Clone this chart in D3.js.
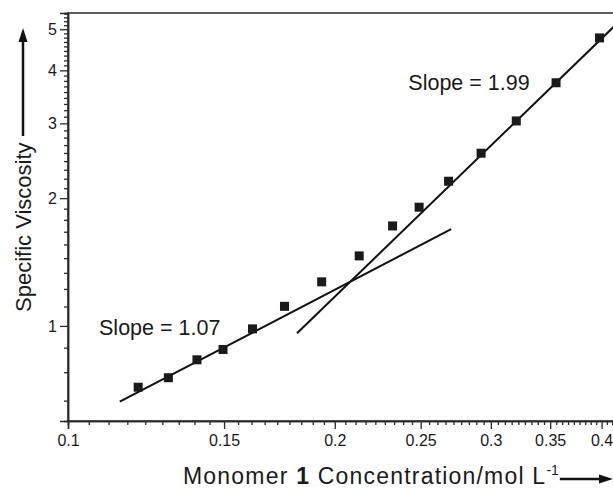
<!DOCTYPE html>
<html>
<head>
<meta charset="utf-8">
<script src="https://cdn.jsdelivr.net/npm/d3@7"></script>
<style>
    body { margin: 0; background: #ffffff; }
    text { font-family: "Liberation Sans", Arial, Helvetica, sans-serif; fill: #1a1a1a; }
</style>
</head>
<body>
<div id="chart"></div>
<script>

// Monomer 1 concentration (mol/L) and specific viscosity
let concentration = [0.1200, 0.1298, 0.1398, 0.1496, 0.1615, 0.1755, 0.1933, 0.2131,
    0.2324, 0.2490, 0.2688, 0.2925, 0.3205, 0.3554, 0.3979];
let viscosity = [0.717, 0.755, 0.832, 0.880, 0.984, 1.112, 1.270, 1.462,
    1.720, 1.904, 2.192, 2.552, 3.04, 3.74, 4.77];

// End points of the two fitted lines
let lowFitX = [0.1144, 0.2706];
let lowFitY = [0.663, 1.690];
let highFitX = [0.1813, 0.4142];
let highFitY = [0.961, 5.10];

// Major ticks and their labels
let xTicks = [0.1, 0.15, 0.2, 0.25, 0.3, 0.35, 0.4];
let xTickLabels = ["0.1", "0.15", "0.2", "0.25", "0.3", "0.35", "0.4"];
let yTicks = [1, 2, 3, 4, 5];
let yTickLabels = ["1", "2", "3", "4", "5"];

let slopeLabels = ["Slope = 1.07", "Slope = 1.99"];

//*************************************************************************************
// SET UP

var width = 613;
var height = 490;

var svg = d3.select("#chart")
    .append("svg")
    .attr("width", width)
    .attr("height", height);

var x = d3.scaleLog()
    .domain([0.1, 0.4142])
    .range([68, 615]);

var y = d3.scaleLog()
    .domain([0.597, 5.46])
    .range([421, 13]);

// Minor ticks: 8 between each pair of major ticks
var xMinor = [];
for (let i = 0; i < xTicks.length; i++) {
    for (let k = 1; k <= 8; k++) {
        let v = xTicks[i] + k * 0.05 / 9;
        if (v < x.domain()[1]) xMinor.push(v);
    }
}
var yMinor = [];
for (let k = 1; k <= 8; k++) {
    if (1 - k / 9 > y.domain()[0]) yMinor.push(1 - k / 9);
}
for (let i = 0; i < yTicks.length; i++) {
    for (let k = 1; k <= 8; k++) {
        let v = yTicks[i] + k / 9;
        if (v < y.domain()[1]) yMinor.push(v);
    }
}

//*************************************************************************************
// AXES

var axisColor = "#2b2b2b";

// frame (right edge falls off the picture)
svg.append("rect")
    .attr("x", 68)
    .attr("y", 13)
    .attr("width", 547)
    .attr("height", 408)
    .attr("fill", "none")
    .attr("stroke", axisColor)
    .attr("stroke-width", 1.5);

var xAxis = svg.append("g")
    .attr("transform", "translate(0,421)")
    .call(d3.axisBottom(x).tickValues(xTicks).tickSize(8)
        .tickFormat((d, i) => xTickLabels[i]));

var xAxisMinor = svg.append("g")
    .attr("transform", "translate(0,421)")
    .call(d3.axisBottom(x).tickValues(xMinor).tickSize(4).tickFormat(""));

var yAxis = svg.append("g")
    .attr("transform", "translate(68,0)")
    .call(d3.axisLeft(y).tickValues(yTicks).tickSize(8)
        .tickFormat((d, i) => yTickLabels[i]));

var yAxisMinor = svg.append("g")
    .attr("transform", "translate(68,0)")
    .call(d3.axisLeft(y).tickValues(yMinor).tickSize(4).tickFormat(""));

[xAxis, xAxisMinor, yAxis, yAxisMinor].forEach(g => {
    g.select(".domain").attr("stroke", axisColor).attr("stroke-width", 1.5);
    g.selectAll(".tick line").attr("stroke", axisColor).attr("stroke-width", 1.3);
});

xAxis.selectAll(".tick text")
    .attr("y", 14)
    .style("font-size", "16px")
    .style("font-family", "Liberation Sans, Arial, sans-serif")
    .attr("fill", "#1a1a1a");

yAxis.selectAll(".tick text")
    .attr("x", -11)
    .style("font-size", "16px")
    .style("font-family", "Liberation Sans, Arial, sans-serif")
    .attr("fill", "#1a1a1a");

//*************************************************************************************
// FIT LINES AND POINTS

var line = d3.line()
    .x(d => x(d[0]))
    .y(d => y(d[1]));

svg.append("defs").append("clipPath")
    .attr("id", "plotClip")
    .append("rect")
    .attr("x", 68).attr("y", 13)
    .attr("width", 547).attr("height", 408);

svg.append("path")
    .datum(lowFitX.map((d, i) => [d, lowFitY[i]]))
    .attr("d", line)
    .attr("fill", "none")
    .attr("stroke", "#111")
    .attr("stroke-width", 2)
    .attr("clip-path", "url(#plotClip)");

svg.append("path")
    .datum(highFitX.map((d, i) => [d, highFitY[i]]))
    .attr("d", line)
    .attr("fill", "none")
    .attr("stroke", "#111")
    .attr("stroke-width", 2)
    .attr("clip-path", "url(#plotClip)");

var markerSize = 9;

svg.selectAll("rect.point")
    .data(concentration)
    .enter()
    .append("rect")
    .attr("class", "point")
    .attr("x", (d, i) => x(d) - markerSize / 2)
    .attr("y", (d, i) => y(viscosity[i]) - markerSize / 2)
    .attr("width", markerSize)
    .attr("height", markerSize)
    .attr("fill", "#1a1a1a");

//*************************************************************************************
// LABELS

svg.append("text")
    .attr("x", x(0.1084))
    .attr("y", y(0.952))
    .style("font-size", "21.5px")
    .text(slopeLabels[0]);

svg.append("text")
    .attr("x", x(0.2421))
    .attr("y", y(3.6))
    .style("font-size", "21.5px")
    .text(slopeLabels[1]);

// y title with arrow
svg.append("text")
    .attr("transform", "translate(31,312) rotate(-90)")
    .style("font-size", "22px")
    .text("Specific Viscosity");

svg.append("line")
    .attr("x1", 23).attr("y1", 136)
    .attr("x2", 23).attr("y2", 40)
    .attr("stroke", "#111")
    .attr("stroke-width", 2.5);

svg.append("path")
    .attr("d", "M23,28 L18.5,42 L27.5,42 Z")
    .attr("fill", "#111");

// x title with arrow
var xTitle = svg.append("text")
    .attr("x", 183)
    .attr("y", 484)
    .style("font-size", "23px")
    .style("letter-spacing", "1.2px");

xTitle.append("tspan").text("Monomer ");
xTitle.append("tspan").style("font-weight", "bold").text("1");
xTitle.append("tspan").text(" Concentration/mol L");
xTitle.append("tspan").attr("dy", -9).style("font-size", "14px").style("letter-spacing", "0px").text("-1");

var titleEnd = 183 + xTitle.node().getComputedTextLength();

svg.append("line")
    .attr("x1", titleEnd + 1).attr("y1", 479)
    .attr("x2", 602).attr("y2", 479)
    .attr("stroke", "#111")
    .attr("stroke-width", 2.5);

svg.append("path")
    .attr("d", "M613,479 L599,474.5 L599,483.5 Z")
    .attr("fill", "#111");

</script>
</body>
</html>
